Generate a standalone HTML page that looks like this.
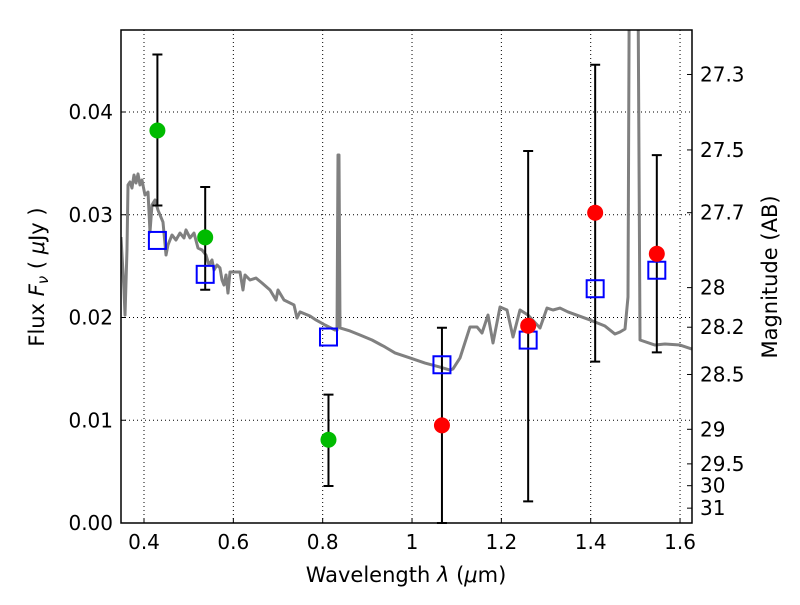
<!DOCTYPE html>
<html><head><meta charset="utf-8"><style>
body{margin:0;background:#fff;width:800px;height:600px;overflow:hidden}
svg text{font-family:"DejaVu Sans","Liberation Sans",sans-serif;fill:#000}
</style></head><body>
<svg id="c" width="800" height="600"></svg>
<script>
const specX=[121,124,125,127,128,130,132,134,136,138,140,142,145,148,150,152,155,158,163,166,168,172,176,180,184,186,190,194,198,202,206,209,212,214,217,220,222,224,226,228,230,240,243,245,250,256,262,270,276,278,284,294,297,300,310,316,325,335,337,338,339,340,350,360,372,385,395,410,425,440,450,453,460,470,477,482,488,493,500,507,513,520,528,540,547,553,560,568,590,605,615,620,625,628,630,637,640,655,665,680,692];
const specY=[237,290,315,250,185,182,188,175,183,174,185,180,195,192,232,205,200,210,222,255,245,235,240,233,238,230,238,233,248,250,255,265,260,270,265,268,280,285,275,293,272,272,290,275,280,278,283,290,300,290,300,305,318,312,316,320,325,330,330,155,155,328,331,335,340,347,353,358,363,367,370,369,358,327,327,333,315,343,307,310,337,310,315,328,308,310,308,312,320,326,334,332,329,297,-200,-200,340,345,344,345,349];
const specWave=specX.map(x=>+(0.4+(x-144)/446.7).toFixed(4));
const specFlux=specY.map(y=>+((523-y)/10275).toFixed(5));
const obsWave=[0.43,0.537,0.813,1.067,1.26,1.41,1.548];
const obsFlux=[0.0382,0.0278,0.0081,0.0095,0.0192,0.0302,0.0262];
const obsLo=[0.0309,0.0227,0.0036,0.0000,0.0021,0.0157,0.0166];
const obsHi=[0.0456,0.0327,0.0125,0.0190,0.0362,0.0446,0.0358];
const obsColor=['#00bb00','#00bb00','#00bb00','red','red','red','red'];
const modelFlux=[0.0275,0.0242,0.0181,0.0154,0.0178,0.0228,0.0246];
const xTicks=[0.4,0.6,0.8,1,1.2,1.4,1.6];
const xTickLabels=['0.4','0.6','0.8','1','1.2','1.4','1.6'];
const yTicks=[0,0.01,0.02,0.03,0.04];
const yTickLabels=['0.00','0.01','0.02','0.03','0.04'];
const magTicks=[27.3,27.5,27.7,28,28.2,28.5,29,29.5,30,31];
const magLabels=['27.3','27.5','27.7','28','28.2','28.5','29','29.5','30','31'];

const L=121,R=692,T=30,B=523;
const X=v=>144+(v-0.4)*446.7;
const Y=v=>523-v*10275;
const svg=document.getElementById('c');
const NS='http://www.w3.org/2000/svg';
function mk(t,a,p){const e=document.createElementNS(NS,t);for(const k in a)e.setAttribute(k,a[k]);(p||svg).appendChild(e);return e;}
const clip=mk('clipPath',{id:'cp'});mk('rect',{x:L,y:T,width:R-L,height:B-T+2},clip);
xTicks.forEach((v,i)=>{
 const g=mk('line',{x1:X(v),x2:X(v),y1:T,y2:B,stroke:'#000','stroke-dasharray':'1,3','stroke-width':1});
 
 const tk=mk('line',{x1:X(v),x2:X(v),y1:B,y2:B-5,stroke:'#000'});
 
 const t=mk('text',{x:X(v),y:B+26,'text-anchor':'middle','font-size':20});t.textContent=xTickLabels[i];
 
});
yTicks.forEach((v,i)=>{
 const g=mk('line',{x1:L,x2:R,y1:Y(v),y2:Y(v),stroke:'#000','stroke-dasharray':'1,3','stroke-width':1});
 
 const tk=mk('line',{x1:L,x2:L+5,y1:Y(v),y2:Y(v),stroke:'#000'});
 
 const t=mk('text',{x:L-8,y:Y(v)+7,'text-anchor':'end','font-size':20});t.textContent=yTickLabels[i];
 
});
magTicks.forEach((m,i)=>{
 const y=Y(Math.pow(10,(23.9-m)/2.5));
 const tk=mk('line',{x1:R-5,x2:R,y1:y,y2:y,stroke:'#000'});
 
 const t=mk('text',{x:R+8,y:y+7,'font-size':20});t.textContent=magLabels[i];
 
});
const sp=mk('polyline',{points:specWave.map((w,i)=>X(w)+','+Y(specFlux[i])).join(' '),fill:'none',stroke:'#808080','stroke-width':3,'clip-path':'url(#cp)','stroke-linejoin':'round'});

obsWave.forEach((w,i)=>{
 const x=X(w);
 const e=mk('path',{d:`M${x},${Y(obsLo[i])}V${Y(obsHi[i])}M${x-5},${Y(obsLo[i])}h10M${x-5},${Y(obsHi[i])}h10`,stroke:'#000','stroke-width':2,fill:'none','clip-path':'url(#cp)'});
 
});
obsWave.forEach((w,i)=>{
 const s=mk('rect',{x:X(w)-8.5,y:Y(modelFlux[i])-8.5,width:17,height:17,fill:'none',stroke:'#0000ff','stroke-width':2});
 
});
obsWave.forEach((w,i)=>{
 const c=mk('circle',{cx:X(w),cy:Y(obsFlux[i]),r:8,fill:obsColor[i]});
 
});
const fr=mk('rect',{x:L,y:T,width:R-L,height:B-T,fill:'none',stroke:'#000','stroke-width':1.5});

</script>
<svg width="800" height="600" style="position:absolute;left:0;top:0">
<text x="406" y="582" text-anchor="middle" font-size="21">Wavelength  <tspan font-style="italic">λ</tspan> (<tspan font-style="italic">μ</tspan>m)</text>
<text transform="translate(44,277) rotate(-90)" text-anchor="middle" font-size="21">Flux  <tspan font-style="italic">F<tspan font-size="15" dy="4">ν</tspan></tspan><tspan dy="-4">  (  </tspan><tspan font-style="italic">μ</tspan>Jy )</text>
<text transform="translate(777,277) rotate(-90)" text-anchor="middle" font-size="21">Magnitude (AB)</text>
</svg>
</body></html>
